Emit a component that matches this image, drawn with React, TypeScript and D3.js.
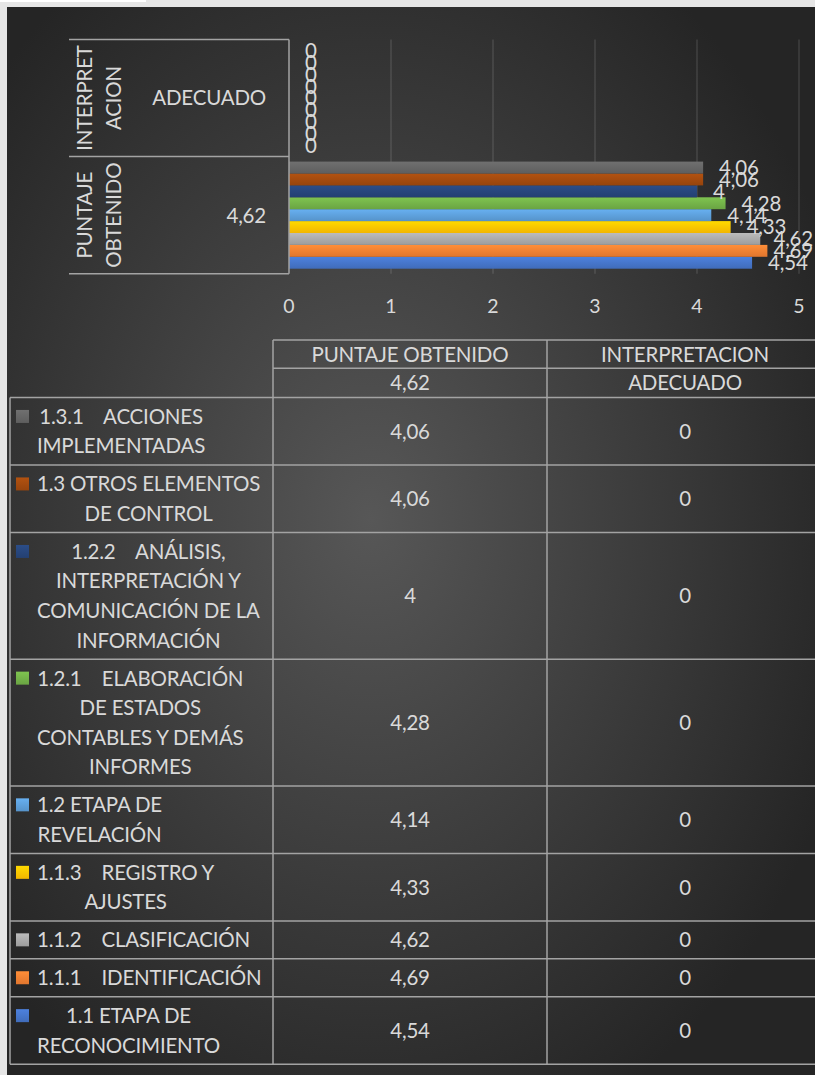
import React, { useEffect, useRef } from "react";
import * as d3 from "d3";

const W = 815;
const H = 1075;

// Series (bottom-to-top in the chart, as in Excel)
const seriesNames = [
  "1.1 ETAPA DE RECONOCIMIENTO",
  "1.1.1 IDENTIFICACIÓN",
  "1.1.2 CLASIFICACIÓN",
  "1.1.3 REGISTRO Y AJUSTES",
  "1.2 ETAPA DE REVELACIÓN",
  "1.2.1 ELABORACIÓN DE ESTADOS CONTABLES Y DEMÁS INFORMES",
  "1.2.2 ANÁLISIS, INTERPRETACIÓN Y COMUNICACIÓN DE LA INFORMACIÓN",
  "1.3 OTROS ELEMENTOS DE CONTROL",
  "1.3.1 ACCIONES IMPLEMENTADAS",
];
const seriesLines = [
  ["1.1 ETAPA DE", "RECONOCIMIENTO"],
  ["1.1.1    IDENTIFICACIÓN"],
  ["1.1.2    CLASIFICACIÓN"],
  ["1.1.3    REGISTRO Y", "AJUSTES"],
  ["1.2 ETAPA DE", "REVELACIÓN"],
  ["1.2.1    ELABORACIÓN", "DE ESTADOS", "CONTABLES Y DEMÁS", "INFORMES"],
  ["1.2.2    ANÁLISIS,", "INTERPRETACIÓN Y", "COMUNICACIÓN DE LA", "INFORMACIÓN"],
  ["1.3 OTROS ELEMENTOS", "DE CONTROL"],
  ["1.3.1    ACCIONES", "IMPLEMENTADAS"],
];
const seriesColors = [
  "#4472C4",
  "#ED7D31",
  "#A5A5A5",
  "#FFC000",
  "#5B9BD5",
  "#70AD47",
  "#264478",
  "#9E480E",
  "#636363",
];
const puntajeValues = [4.54, 4.69, 4.62, 4.33, 4.14, 4.28, 4.0, 4.06, 4.06];
const interpretacionValues = [0, 0, 0, 0, 0, 0, 0, 0, 0];

// Categories (first = bottom in the chart)
const outerCategories = ["PUNTAJE OBTENIDO", "INTERPRETACION"];
const outerCategoryLines = [["PUNTAJE", "OBTENIDO"], ["INTERPRET", "ACION"]];
const innerCategories = ["4,62", "ADECUADO"];
const xTicks = [0, 1, 2, 3, 4, 5];

const TEXT = "#d9d9d9";
const LINE = "#a3a3a3";
const FONT = "Lato, 'Noto Sans', sans-serif";
const FS = 20.5;
const LS = -0.2;

export default function App() {
  const ref = useRef<SVGSVGElement | null>(null);

  useEffect(() => {
    const svg = d3.select(ref.current);
    svg.selectAll("*").remove();

    const locale = d3.formatLocale({
      decimal: ",",
      thousands: ".",
      grouping: [3],
      currency: ["", ""],
    });
    const fmt = locale.format(".3~g");

    const defs = svg.append("defs");
    const bg = defs
      .append("radialGradient")
      .attr("id", "bg")
      .attr("cx", "45%")
      .attr("cy", "48%")
      .attr("r", "62%");
    bg.append("stop").attr("offset", "0%").attr("stop-color", "#575757");
    bg.append("stop").attr("offset", "100%").attr("stop-color", "#252525");

    seriesColors.forEach((c, i) => {
      const g = defs
        .append("linearGradient")
        .attr("id", "bar" + i)
        .attr("x1", 0)
        .attr("y1", 0)
        .attr("x2", 0)
        .attr("y2", 1);
      g.append("stop").attr("offset", "0%").attr("stop-color", d3.color(c)!.brighter(0.35).formatHex());
      g.append("stop").attr("offset", "100%").attr("stop-color", d3.color(c)!.darker(0.15).formatHex());
    });

    const txt = (sel: any) =>
      sel
        .attr("fill", TEXT)
        .attr("font-family", FONT)
        .attr("font-size", FS)
        .attr("letter-spacing", LS);

    // page + panel
    svg.append("rect").attr("width", W).attr("height", H).attr("fill", "#e6e6e6");
    svg.append("rect").attr("x", 0).attr("y", 0).attr("width", 146).attr("height", 2).attr("fill", "#ffffff");
    svg
      .append("rect")
      .attr("x", 7)
      .attr("y", 7)
      .attr("width", W - 7)
      .attr("height", H - 7)
      .attr("fill", "url(#bg)");

    // ---------- Chart ----------
    const x = d3.scaleLinear().domain([0, 5]).range([289, 799]);
    const yOuter = d3
      .scaleBand<string>()
      .domain(outerCategories.slice().reverse())
      .range([39.5, 273.7]);
    const yInner = d3
      .scaleBand<number>()
      .domain(d3.range(seriesNames.length).reverse())
      .range([0, yOuter.bandwidth()])
      .paddingInner(0)
      .paddingOuter(0.42);

    const g = svg.append("g");

    // gridlines
    g.selectAll("line.grid")
      .data(xTicks.filter((t) => t > 0))
      .join("line")
      .attr("x1", (d) => x(d))
      .attr("x2", (d) => x(d))
      .attr("y1", yOuter.range()[0])
      .attr("y2", yOuter.range()[1])
      .attr("stroke", "rgba(255,255,255,0.12)")
      .attr("stroke-width", 1.5);

    // tick labels
    g.selectAll("text.tick")
      .data(xTicks)
      .join("text")
      .attr("x", (d) => x(d))
      .attr("y", 306)
      .attr("dy", "0.35em")
      .attr("text-anchor", "middle")
      .attr("fill", TEXT)
      .attr("font-family", FONT)
      .attr("font-size", 19.5)
      .text((d) => String(d));

    const valuesByCat = [puntajeValues, interpretacionValues];
    const chartRight = 813;

    outerCategories.forEach((cat, ci) => {
      const y0 = yOuter(cat)!;
      const vals = valuesByCat[ci];
      vals.forEach((v, si) => {
        const yy = y0 + yInner(si)!;
        g.append("rect")
          .attr("x", x(0))
          .attr("y", yy)
          .attr("width", x(v) - x(0))
          .attr("height", yInner.bandwidth())
          .attr("fill", `url(#bar${si})`);
      });
      vals.forEach((v, si) => {
        const yy = y0 + yInner(si)! + yInner.bandwidth() / 2;
        const t = g
          .append("text")
          .attr("x", x(v) + 16)
          .attr("y", yy)
          .attr("dy", "0.36em")
          .call(txt)
          .text(fmt(v));
        const w = (t.node() as SVGTextElement).getComputedTextLength();
        if (x(v) + 16 + w > chartRight) t.attr("x", chartRight - w);
      });
    });

    // category axis frame
    const [yTop, yBot] = yOuter.range();
    const frameYs = [yTop, ...outerCategories.map((c) => yOuter(c)! + yOuter.bandwidth())];
    g.selectAll("line.frame")
      .data(frameYs)
      .join("line")
      .attr("x1", 69)
      .attr("x2", x(0))
      .attr("y1", (d) => d)
      .attr("y2", (d) => d)
      .attr("stroke", LINE)
      .attr("stroke-width", 1.5);
    g.append("line")
      .attr("x1", x(0))
      .attr("x2", x(0))
      .attr("y1", yTop)
      .attr("y2", yBot)
      .attr("stroke", LINE)
      .attr("stroke-width", 1.5);

    outerCategories.forEach((cat, ci) => {
      const cy = yOuter(cat)! + yOuter.bandwidth() / 2;
      g.append("text")
        .attr("x", 266)
        .attr("y", cy)
        .attr("dy", "0.36em")
        .attr("text-anchor", "end")
        .call(txt)
        .text(innerCategories[ci]);
      outerCategoryLines[ci].forEach((ln, li) => {
        const lx = 85 + li * 29;
        g.append("text")
          .attr("transform", `translate(${lx},${cy}) rotate(-90)`)
          .attr("dy", "0.36em")
          .attr("text-anchor", "middle")
          .call(txt)
          .text(ln);
      });
    });

    // ---------- Data table ----------
    const tbl = svg.append("g");
    const colX = [10, 273, 547, 823];
    const headTop = 340;
    const headMid = 368.3;
    const headBot = 397.5;
    const lineH = 29.6;
    const rowPad = 8.3;
    const order = d3.range(seriesNames.length).reverse(); // top row = last series
    const rowHeights = order.map((si) => seriesLines[si].length * lineH + rowPad);
    const rowTops = [headBot];
    rowHeights.forEach((h, i) => rowTops.push(rowTops[i] + h));
    const tableBot = rowTops[rowTops.length - 1];

    const hline = (x1: number, x2: number, y: number) =>
      tbl
        .append("line")
        .attr("x1", x1)
        .attr("x2", x2)
        .attr("y1", y)
        .attr("y2", y)
        .attr("stroke", LINE)
        .attr("stroke-width", 1.5);
    const vline = (xx: number, y1: number, y2: number) =>
      tbl
        .append("line")
        .attr("x1", xx)
        .attr("x2", xx)
        .attr("y1", y1)
        .attr("y2", y2)
        .attr("stroke", LINE)
        .attr("stroke-width", 1.5);

    hline(colX[1], W, headTop);
    hline(colX[1], W, headMid);
    rowTops.forEach((y) => hline(colX[0], W, y));
    vline(colX[0], headBot, tableBot);
    vline(colX[1], headTop, tableBot);
    vline(colX[2], headTop, tableBot);

    const cellText = (cx: number, cy: number, s: string, anchor = "middle") =>
      tbl
        .append("text")
        .attr("x", cx)
        .attr("y", cy)
        .attr("dy", "0.36em")
        .attr("text-anchor", anchor)
        .call(txt)
        .style("white-space", "pre")
        .text(s);

    const c1 = (colX[1] + colX[2]) / 2;
    const c2 = (colX[2] + colX[3]) / 2;
    cellText(c1, (headTop + headMid) / 2, outerCategories[0]);
    cellText(c2, (headTop + headMid) / 2, outerCategories[1]);
    cellText(c1, (headMid + headBot) / 2, innerCategories[0]);
    cellText(c2, (headMid + headBot) / 2, innerCategories[1]);

    order.forEach((si, ri) => {
      const top = rowTops[ri];
      const h = rowHeights[ri];
      const cy = top + h / 2;
      cellText(c1, cy, fmt(puntajeValues[si]));
      cellText(c2, cy, fmt(interpretacionValues[si]));

      const lines = seriesLines[si];
      const firstY = cy - ((lines.length - 1) * lineH) / 2;
      const texts = lines.map((ln, li) => cellText(37, firstY + li * lineH, ln, "start"));
      const widths = texts.map((t) => (t.node() as SVGTextElement).getComputedTextLength());
      const blockW = d3.max(widths) || 0;
      texts.forEach((t, li) => t.attr("x", 37 + (blockW - widths[li]) / 2));

      tbl
        .append("rect")
        .attr("x", 16)
        .attr("y", firstY - 6.5)
        .attr("width", 13)
        .attr("height", 13)
        .attr("fill", `url(#bar${si})`);
    });
  }, []);

  return (
    <svg
      ref={ref}
      width={W}
      height={H}
      style={{ position: "absolute", left: 0, top: 0, display: "block" }}
    />
  );
}
